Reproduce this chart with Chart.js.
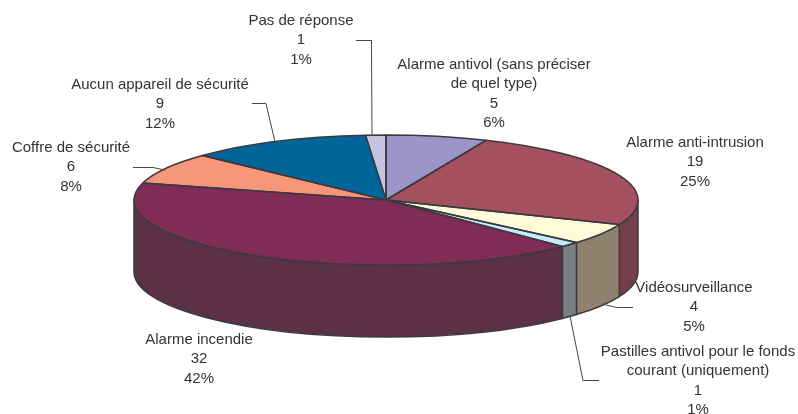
<!DOCTYPE html>
<html><head><meta charset="utf-8">
<style>html,body{margin:0;padding:0;background:#fff}canvas{display:block}</style>
<script src="https://cdn.jsdelivr.net/npm/chart.js@4"></script>
</head><body><canvas id="c" width="798" height="414"></canvas>
<script>
const categories = ["Alarme antivol (sans préciser de quel type)","Alarme anti-intrusion","Vidéosurveillance","Pastilles antivol pour le fonds courant (uniquement)","Alarme incendie","Coffre de sécurité","Aucun appareil de sécurité","Pas de réponse"];
const values = [5,19,4,1,32,6,9,1];
const percents = ["6%","25%","5%","1%","42%","8%","12%","1%"];
const topColors = ["#9C95C7","#A5505F","#FFFBD8","#C6E9FB","#812B57","#F79678","#006699","#C7C4E2"];
const wallColors = ["#6E688B","#733F4A","#90806E","#7B8082","#5C3045","#AD6954","#00476B","#8B899E"];

const labelLayout = [
 {name:["Alarme antivol (sans préciser","de quel type)"],cx:494,y:65},
 {name:["Alarme anti-intrusion"],cx:695,y:143},
 {name:["Vidéosurveillance"],cx:694,y:288},
 {name:["Pastilles antivol pour le fonds","courant (uniquement)"],cx:698,y:352},
 {name:["Alarme incendie"],cx:199,y:340},
 {name:["Coffre de sécurité"],cx:71,y:148},
 {name:["Aucun appareil de sécurité"],cx:160,y:85},
 {name:["Pas de réponse"],cx:301,y:21}
];
const leaders = [
 [[356,40.5],[371.5,40.5],[372,136]],
 [[252,103.5],[266,103.5],[275,142]],
 [[133,167.5],[153,167.5],[165,170]],
 [[633,307.5],[617,307.5],[602,304]],
 [[570,316],[583,380.5],[599,380.5]]
];
const pie = {cx:386, cy:200, rx:252, ry:65, depth:72};
const edge = "#3A3A40";
const px = a => pie.cx + pie.rx*Math.cos(a);
const py = a => pie.cy + pie.ry*Math.sin(a);

const pie3d = {
  id:'pie3d',
  beforeDatasetsDraw(chart){
    const ctx = chart.ctx, arcs = chart.getDatasetMeta(0).data;
    ctx.lineWidth = 1.5; ctx.strokeStyle = edge; ctx.lineJoin = 'round';
    const T = Math.PI*2;
    arcs.forEach((arc,i)=>{
      const a0 = arc.startAngle, a1 = arc.endAngle;
      for (const k of [0,T]) {
        const s = Math.max(a0, k), e = Math.min(a1, k+Math.PI);
        if (e <= s) continue;
        ctx.beginPath();
        ctx.ellipse(pie.cx, pie.cy, pie.rx, pie.ry, 0, s, e);
        ctx.ellipse(pie.cx, pie.cy+pie.depth, pie.rx, pie.ry, 0, e, s, true);
        ctx.closePath();
        ctx.fillStyle = wallColors[i];
        ctx.fill();
        ctx.stroke();
      }
    });
    const a = arcs[0];
    ctx.save();
    ctx.translate(pie.cx, pie.cy);
    ctx.scale(pie.rx/a.outerRadius, pie.ry/a.outerRadius);
    ctx.translate(-a.x, -a.y);
  },
  afterDatasetsDraw(chart){
    const ctx = chart.ctx, arcs = chart.getDatasetMeta(0).data;
    ctx.restore();
    ctx.save();
    ctx.lineWidth = 1.5; ctx.strokeStyle = edge; ctx.lineJoin = 'round';
    arcs.forEach(arc=>{
      ctx.beginPath();
      ctx.moveTo(pie.cx, pie.cy);
      ctx.lineTo(px(arc.startAngle), py(arc.startAngle));
      ctx.ellipse(pie.cx, pie.cy, pie.rx, pie.ry, 0, arc.startAngle, arc.endAngle);
      ctx.closePath();
      ctx.stroke();
    });
    ctx.lineWidth = 1; ctx.strokeStyle = "#444";
    leaders.forEach(l=>{
      ctx.beginPath();
      l.forEach((p,i)=> i? ctx.lineTo(p[0],p[1]) : ctx.moveTo(p[0],p[1]));
      ctx.stroke();
    });
    ctx.fillStyle = "#333"; ctx.font = "15px 'Liberation Sans'";
    ctx.textAlign = "center"; ctx.textBaseline = "middle";
    labelLayout.forEach((l,i)=>{
      const lines = [...l.name, String(values[i]), percents[i]];
      lines.forEach((t,j)=> ctx.fillText(t, l.cx, l.y + j*19.2));
    });
    ctx.restore();
  }
};
new Chart(document.getElementById('c'),{
  type:'pie',
  data:{labels:categories,datasets:[{data:values,backgroundColor:topColors,borderWidth:0,clip:false}]},
  options:{responsive:false,animation:false,radius:252,
    plugins:{legend:{display:false},tooltip:{enabled:false}}},
  plugins:[pie3d]
});
</script></body></html>
